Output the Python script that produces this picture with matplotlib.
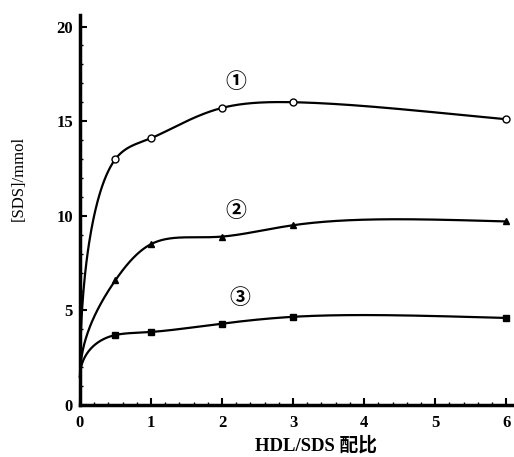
import numpy as np
import matplotlib
matplotlib.use("Agg")
import matplotlib.pyplot as plt
from matplotlib.ticker import MultipleLocator

# ---- data ----
ratio = [0, 0.5, 1, 2, 3, 6]
sds_1 = [1.5, 13.0, 14.1, 15.7, 16.0, 15.1]
sds_2 = [1.5, 6.6, 8.5, 8.9, 9.5, 9.7]
sds_3 = [1.5, 3.7, 3.86, 4.3, 4.66, 4.6]
curve_labels = ["①", "②", "③"]
label_pos_x = [2.2, 2.2, 2.25]
label_pos_y = [17.1, 10.3, 5.7]
x_ticks = [0, 1, 2, 3, 4, 5, 6]
y_ticks = [0, 5, 10, 15, 20]

def natural_spline(t, y, tt):
    t = np.asarray(t, float); y = np.asarray(y, float)
    n = len(t)
    h = np.diff(t)
    A = np.zeros((n, n)); b = np.zeros(n)
    A[0, 0] = 1; A[-1, -1] = 1
    for i in range(1, n - 1):
        A[i, i - 1] = h[i - 1]
        A[i, i] = 2 * (h[i - 1] + h[i])
        A[i, i + 1] = h[i]
        b[i] = 3 * ((y[i + 1] - y[i]) / h[i] - (y[i] - y[i - 1]) / h[i - 1])
    c = np.linalg.solve(A, b)
    out = np.empty_like(tt)
    for k, v in enumerate(tt):
        i = min(max(np.searchsorted(t, v) - 1, 0), n - 2)
        d = v - t[i]
        bi = (y[i + 1] - y[i]) / h[i] - h[i] * (2 * c[i] + c[i + 1]) / 3
        di = (c[i + 1] - c[i]) / (3 * h[i])
        out[k] = y[i] + bi * d + c[i] * d * d + di * d ** 3
    return out

fig = plt.figure(figsize=(5.14, 4.57), dpi=100)
ax = fig.add_axes([0.1556, 0.1138, 0.8444, 0.853])

serif = "Liberation Serif"
xs = np.array(ratio, float)
fine_x = np.linspace(0, 6, 600)
for ys, mk, mfc in [(sds_1, "o", "white"), (sds_2, "^", "black"), (sds_3, "s", "black")]:
    fine_y = natural_spline(np.sqrt(xs), ys, np.sqrt(fine_x))
    ax.plot(fine_x, fine_y, color="black", lw=1.6, clip_on=False)
    ax.plot(xs[1:], np.array(ys)[1:], linestyle="none", marker=mk, ms=5,
            mfc=mfc, mec="black", mew=1.0, clip_on=False, zorder=3)

for lab, lx, ly in zip(curve_labels, label_pos_x, label_pos_y):
    ax.text(lx, ly, lab, ha="center", va="center", fontsize=15,
            family=["Noto Sans CJK SC", "DejaVu Sans"], fontweight="bold")

ax.set_xlim(0, 6.11)
ax.set_ylim(0, 20.6)
ax.set_xticks(x_ticks)
ax.set_yticks(y_ticks)
ax.xaxis.set_minor_locator(MultipleLocator(0.2))
ax.yaxis.set_minor_locator(MultipleLocator(1))
ax.tick_params(which="major", direction="in", length=5, width=1.5)
ax.tick_params(which="minor", direction="in", length=2.5, width=1.0)
ax.tick_params(axis="x", which="major", pad=7)
ax.tick_params(axis="y", which="major", pad=5)
for s in ["top", "right"]:
    ax.spines[s].set_visible(False)
for s in ["left", "bottom"]:
    ax.spines[s].set_linewidth(2.5)

for lbl in ax.get_xticklabels() + ax.get_yticklabels():
    lbl.set_family(serif)
    lbl.set_fontweight("bold")
    lbl.set_fontsize(12)

ax.set_ylabel("[SDS]/mmol", family=serif, fontsize=12)
ax.yaxis.set_label_coords(-0.122, 0.58)
ax.set_xlabel("HDL/SDS 配比", family=[serif, "Noto Sans CJK SC"],
              fontweight="bold", fontsize=13.5)
ax.xaxis.set_label_coords(0.544, -0.08)

fig.savefig("out.png", dpi=100)
